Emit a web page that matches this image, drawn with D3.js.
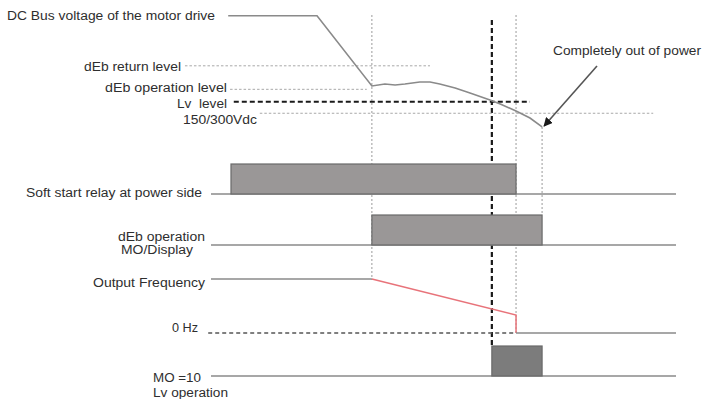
<!DOCTYPE html>
<html><head><meta charset="utf-8">
<script src="https://cdn.jsdelivr.net/npm/d3@7"></script>
<style>body{margin:0;background:#fff}svg{display:block}text{font-family:"Liberation Sans",Arial,sans-serif;fill:#2e2e2e;white-space:pre}</style>
</head><body><div id="chart"></div>
<script>
// ---- data (time in % of the window, voltage in % of scale) ----
const busTime    = [3.7, 22.8, 34.6, 37.4, 39.6, 41.7, 44.9, 47.1, 49.2, 52.5, 55.7, 60.0, 62.2, 65.6, 68.6, 71.2];
const busVoltage = [88.8, 88.8, 38.6, 40.0, 39.3, 40.0, 41.4, 41.4, 40.0, 37.1, 33.6, 28.6, 25.7, 20.7, 15.7, 9.3];
const levelNames = ["dEb return level", "dEb operation level", "Lv  level", "150/300Vdc"];
const levelValues = [53.0, 36.2, 27.4, 19.1];
const levelStart = [-5.6, 4.1, 4.9, 10.5];
const levelEnd   = [47.1, 33.5, 68.6, 95.1];
const eventTimes = [34.6, 60.4, 65.6, 71.2];   // dEb start, Lv, relay off, power out
const relayOn  = [4.3, 65.6];
const dEbOn    = [34.6, 71.2];
const lvOn     = [60.4, 71.2];
const freqTime  = [34.6, 65.6, 65.6];
const freqValue = [100, 33.3, 0];
const laneNames = ["Soft start relay at power side", "dEb operation", "MO/Display", "Output Frequency", "0 Hz", "MO =10", "Lv operation"];

const W = 707, H = 399;
const svg = d3.select("#chart").append("svg").attr("width", W).attr("height", H);
const x = d3.scaleLinear().domain([0, 100]).range([211, 676]);
const yV = d3.scaleLinear().domain([0, 100]).range([140, 0]);
const yF = d3.scaleLinear().domain([0, 100]).range([333, 279]);
const fs = 12.5;
const grey = "#8a8a8a";

function label(txt, x0, x1, yb) {
  svg.append("text").attr("x", x0).attr("y", yb)
    .attr("font-size", fs).attr("textLength", x1 - x0).attr("lengthAdjust", "spacingAndGlyphs")
    .text(txt);
}

// vertical event guides
const vTop = [15, 20, 15, 127];
const vBot = [280, 346, 334, 215];
eventTimes.forEach((t, i) => {
  const heavy = i === 1;
  svg.append("line").attr("x1", x(t)).attr("x2", x(t)).attr("y1", vTop[i]).attr("y2", vBot[i])
    .attr("stroke", heavy ? "#1a1a1a" : "#9a9a9a")
    .attr("stroke-width", heavy ? 2.2 : 1)
    .attr("stroke-dasharray", heavy ? "5,3" : "2,2");
});

// level lines
levelValues.forEach((v, i) => {
  const heavy = i === 2;
  svg.append("line").attr("x1", x(levelStart[i])).attr("x2", x(levelEnd[i]))
    .attr("y1", yV(v)).attr("y2", yV(v))
    .attr("stroke", heavy ? "#1a1a1a" : "#a8a8a8")
    .attr("stroke-width", heavy ? 2 : 1)
    .attr("stroke-dasharray", heavy ? "5,3" : "2.5,2");
});

// DC bus voltage curve
const busPts = busTime.map((t, i) => [x(t), yV(busVoltage[i])]);
svg.append("path").attr("d", d3.line()(busPts)).attr("fill", "none")
  .attr("stroke", grey).attr("stroke-width", 1.6);

// arrow
svg.append("defs").append("marker").attr("id", "ah").attr("viewBox", "0 0 10 10")
  .attr("refX", 9).attr("refY", 5).attr("markerWidth", 9).attr("markerHeight", 9)
  .attr("markerUnits", "userSpaceOnUse").attr("orient", "auto")
  .append("path").attr("d", "M0,0L10,5L0,10z").attr("fill", "#1a1a1a");
svg.append("line").attr("x1", 597).attr("y1", 66).attr("x2", x(71.2) + 2).attr("y2", yV(9.3) - 1)
  .attr("stroke", "#555").attr("stroke-width", 1.6).attr("marker-end", "url(#ah)");

// digital lanes
function lane(base, on, fill, stroke) {
  svg.append("line").attr("x1", x(0)).attr("x2", x(100)).attr("y1", base).attr("y2", base)
    .attr("stroke", grey).attr("stroke-width", 1.4);
  svg.append("rect").attr("x", x(on[0])).attr("y", base - 30)
    .attr("width", x(on[1]) - x(on[0])).attr("height", 30)
    .attr("fill", fill).attr("stroke", stroke).attr("stroke-width", 1.2);
}
lane(194, relayOn, "#9a9797", "#6a6a6a");
lane(245, dEbOn, "#9a9797", "#6a6a6a");
lane(376, lvOn, "#7c7c7c", "#6a6a6a");

// frequency lane
svg.append("line").attr("x1", x(0)).attr("x2", x(freqTime[0])).attr("y1", yF(100)).attr("y2", yF(100))
  .attr("stroke", grey).attr("stroke-width", 1.4);
svg.append("path").attr("d", d3.line()(freqTime.map((t, i) => [x(t), yF(freqValue[i])])))
  .attr("fill", "none").attr("stroke", "#e8737a").attr("stroke-width", 1.5);
svg.append("line").attr("x1", x(-0.6)).attr("x2", x(freqTime[1])).attr("y1", yF(0)).attr("y2", yF(0))
  .attr("stroke", "#555").attr("stroke-width", 1.5).attr("stroke-dasharray", "4,3");
svg.append("line").attr("x1", x(freqTime[1])).attr("x2", x(100)).attr("y1", yF(0)).attr("y2", yF(0))
  .attr("stroke", grey).attr("stroke-width", 1.4);

// labels
label("DC Bus voltage of the motor drive", 7, 215, 20);
label(levelNames[0], 84, 181, 71);
label(levelNames[1], 105, 227, 92);
label(levelNames[2], 177, 227, 108);
label(levelNames[3], 183, 257, 124);
label("Completely out of power", 553, 701, 55);
label(laneNames[0], 26, 202, 197);
label(laneNames[1], 118, 205, 241);
label(laneNames[2], 121, 193, 254);
label(laneNames[3], 93, 205, 287);
label(laneNames[4], 172, 198, 332);
label(laneNames[5], 153, 201, 382);
label(laneNames[6], 153, 228, 397);
</script></body></html>
